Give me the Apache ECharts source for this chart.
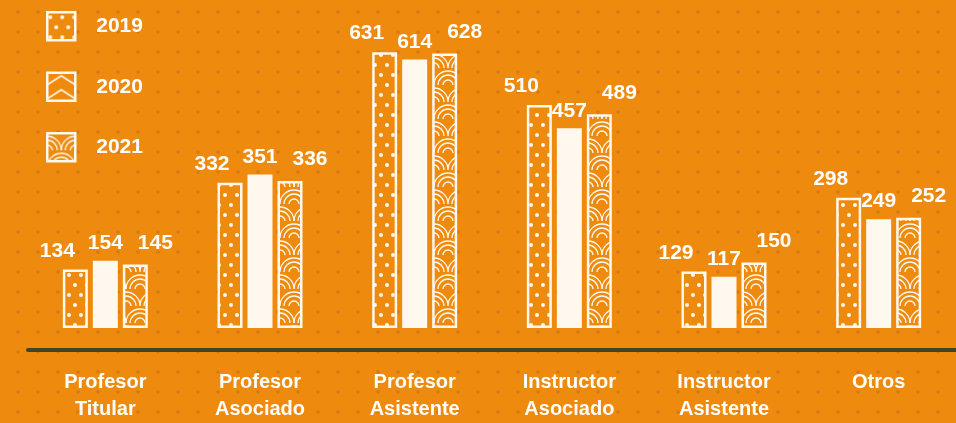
<!DOCTYPE html>
<html>
<head>
<meta charset="utf-8">
<script src="https://cdn.jsdelivr.net/npm/echarts@6/dist/echarts.min.js"></script>
<style>
  html, body { margin: 0; padding: 0; }
  #chart {
    width: 956px; height: 423px;
    background-color: #ee8a0e;
    background-image: radial-gradient(circle, rgba(196, 110, 20, 0.55) 1.4px, transparent 2.2px);
    background-size: 20px 20px;
    background-position: 8px 2px;
  }
</style>
</head>
<body>
<div id="chart"></div>
<script>
const categories = ['Profesor\nTitular', 'Profesor\nAsociado', 'Profesor\nAsistente', 'Instructor\nAsociado', 'Instructor\nAsistente', 'Otros']
const years = ['2019', '2020', '2021']
const values2019 = [134, 332, 631, 510, 129, 298]
const values2020 = [154, 351, 614, 457, 117, 249]
const values2021 = [145, 336, 628, 489, 150, 252]

const ORANGE = '#ee8a0e'
const WHITE = '#fff8ee'
const FONT = 'Liberation Sans, Arial, sans-serif'

function makeTile(w, h, draw) {
  const c = document.createElement('canvas')
  c.width = w
  c.height = h
  const ctx = c.getContext('2d')
  ctx.fillStyle = ORANGE
  ctx.fillRect(0, 0, w, h)
  ctx.fillStyle = WHITE
  ctx.strokeStyle = WHITE
  draw(ctx)
  return { image: c, repeat: 'repeat' }
}

// dots for 2019
const dotPattern = makeTile(12, 20, (ctx) => {
  ctx.beginPath(); ctx.arc(3, 5, 2, 0, Math.PI * 2); ctx.fill()
  ctx.beginPath(); ctx.arc(9, 15, 2, 0, Math.PI * 2); ctx.fill()
})

// chevrons for 2020 (legend icon)
const chevronPattern = makeTile(28, 14, (ctx) => {
  ctx.lineWidth = 1.6
  ctx.beginPath(); ctx.moveTo(0, 12); ctx.lineTo(14, 3); ctx.lineTo(28, 12); ctx.stroke()
})

// fish-scale arcs for 2021
const arcPattern = makeTile(28, 34, (ctx) => {
  ctx.lineWidth = 1.3
  ;[5, 10, 14].forEach((r) => {
    ctx.beginPath(); ctx.arc(14, 34, r, Math.PI, Math.PI * 2); ctx.stroke()
    ctx.beginPath(); ctx.arc(0, 17, r, Math.PI * 1.5, Math.PI * 2); ctx.stroke()
    ctx.beginPath(); ctx.arc(28, 17, r, Math.PI, Math.PI * 1.5); ctx.stroke()
  })
})

const labelBase = {
  show: true,
  position: 'top',
  color: '#ffffff',
  fontFamily: FONT,
  fontWeight: 'bold',
  fontSize: 21
}

function barSeries(name, data, color, offset) {
  return {
    name,
    type: 'bar',
    data,
    barWidth: 25,
    barGap: '20%',
    itemStyle: { color, borderColor: WHITE, borderWidth: 2.5 },
    label: Object.assign({}, labelBase, { offset })
  }
}

const chart = echarts.init(document.getElementById('chart'))
chart.setOption({
  backgroundColor: 'transparent',
  animation: false,
  legend: {
    orient: 'vertical',
    left: 41,
    top: 6,
    itemWidth: 28,
    itemHeight: 28,
    itemGap: 30,
    textStyle: { color: '#ffffff', fontSize: 21, fontWeight: 'bold', fontFamily: FONT, padding: [0, 0, 0, 16] },
    data: [
      { name: '2019', icon: 'rect', itemStyle: { color: dotPattern, borderColor: WHITE, borderWidth: 2.5 } },
      { name: '2020', icon: 'rect', itemStyle: { color: chevronPattern, borderColor: WHITE, borderWidth: 2.5 } },
      { name: '2021', icon: 'rect', itemStyle: { color: arcPattern, borderColor: WHITE, borderWidth: 2.5 } }
    ]
  },
  grid: { left: 28, right: 0, top: 22, bottom: 84 },
  xAxis: {
    type: 'category',
    data: categories,
    offset: 22,
    axisLine: { onZero: false, lineStyle: { color: '#3e4528', width: 4 } },
    axisTick: { show: false },
    axisLabel: {
      color: '#ffffff',
      fontSize: 20,
      fontWeight: 'bold',
      fontFamily: FONT,
      lineHeight: 27,
      margin: 19
    }
  },
  yAxis: {
    type: 'value',
    min: 0,
    max: 700,
    show: false,
    splitLine: { show: false }
  },
  series: [
    barSeries(years[0], values2019, dotPattern, [-18, -3]),
    barSeries(years[1], values2020, WHITE, [0, -2]),
    barSeries(years[2], values2021, arcPattern, [20, -6])
  ]
})
</script>
</body>
</html>
